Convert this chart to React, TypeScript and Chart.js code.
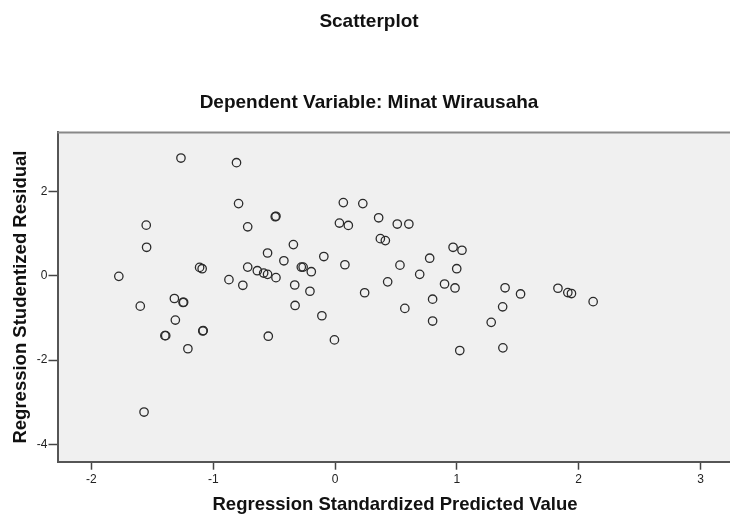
import React, { useEffect, useRef } from "react";
import { Chart, registerables } from "chart.js";

Chart.register(...registerables);

// Regression standardized predicted values (x) and studentized residuals (y)
const predictedValues = [
  -1.265, -0.809, -0.792, -0.491, -0.485, -1.55, -0.717, -1.547, -0.554, -0.42,
  -1.112, -1.091, -0.717, -0.638, -0.586, -0.554, -1.775, -0.485, -0.871, -0.757,
  -1.319, -1.248, -1.243, -1.599, -1.311, -1.397, -1.39, -1.086, -1.082, -1.208,
  -0.548, -1.568, 0.068, 0.228, 0.036, 0.109, 0.358, 0.511, 0.606, 0.372,
  0.413, -0.342, -0.092, 0.081, 0.533, 0.777, 0.969, 1.042, -0.277, -0.262,
  -0.195, 0.999, 0.695, 0.432, -0.331, 0.899, 0.985, -0.206, 0.243, 0.801,
  -0.328, -0.108, 0.573, 0.801, -0.005, 1.024, 1.282, 1.376, 1.396, 1.378,
  1.523, 1.83, 1.911, 1.941, 2.119,
];
const studentizedResiduals = [
  2.79, 2.68, 1.71, 1.4, 1.41, 1.2, 1.16, 0.675, 0.54, 0.355,
  0.198, 0.167, 0.205, 0.12, 0.064, 0.033, -0.014, -0.045, -0.092, -0.226,
  -0.539, -0.633, -0.628, -0.72, -1.05, -1.419, -1.419, -1.308, -1.3, -1.73,
  -1.433, -3.23, 1.734, 1.71, 1.249, 1.193, 1.374, 1.226, 1.226, 0.88,
  0.833, 0.739, 0.456, 0.261, 0.252, 0.416, 0.675, 0.605, 0.205, 0.205,
  0.096, 0.167, 0.033, -0.144, -0.219, -0.195, -0.289, -0.367, -0.402, -0.555,
  -0.704, -0.948, -0.774, -1.073, -1.52, -1.772, -1.104, -0.736, -0.285, -1.708,
  -0.431, -0.296, -0.398, -0.421, -0.614,
];

const xTickValues = [-2, -1, 0, 1, 2, 3];
const yTickValues = [-4, -2, 0, 2];

const chartTitle = "Scatterplot";
const chartSubtitle = "Dependent Variable: Minat Wirausaha";
const xAxisTitle = "Regression Standardized Predicted Value";
const yAxisTitle = "Regression Studentized Residual";

const X_MIN = -2.2785;
const X_MAX = 3.263;
const Y_MIN = -4.407;
const Y_MAX = 3.398;

const FONT = "Arial, 'Liberation Sans', Helvetica, sans-serif";
const CANVAS_W = 738;
const CANVAS_H = 516;

const plotFrame = {
  id: "plotFrame",
  beforeDraw(chart: any) {
    const { ctx, chartArea } = chart;
    if (!chartArea) return;
    ctx.save();
    ctx.fillStyle = "#f0f0f0";
    ctx.fillRect(chartArea.left, chartArea.top, chartArea.right - chartArea.left, chartArea.bottom - chartArea.top);
    ctx.restore();
  },
  afterDraw(chart: any) {
    const { ctx, chartArea } = chart;
    if (!chartArea) return;
    ctx.save();
    ctx.strokeStyle = "#888888";
    ctx.lineWidth = 2;
    ctx.beginPath();
    ctx.moveTo(chartArea.left, chartArea.top);
    ctx.lineTo(chartArea.right, chartArea.top);
    ctx.stroke();
    ctx.restore();
  },
};

export default function App() {
  const canvasRef = useRef<HTMLCanvasElement | null>(null);

  useEffect(() => {
    const canvas = canvasRef.current;
    if (!canvas) return;
    const points = predictedValues.map((x, i) => ({ x, y: studentizedResiduals[i] }));
    const chart = new Chart(canvas, {
      type: "scatter",
      data: {
        datasets: [
          {
            data: points,
            pointStyle: "circle",
            pointRadius: 4.2,
            pointBorderWidth: 1.3,
            pointBorderColor: "#2b2b2b",
            pointBackgroundColor: "rgba(0,0,0,0)",
            pointHoverRadius: 4.2,
          },
        ],
      },
      options: {
        responsive: false,
        animation: false,
        devicePixelRatio: 1,
        layout: { padding: { top: 0, left: 0, right: 0, bottom: 0 } },
        plugins: {
          legend: { display: false },
          tooltip: { enabled: false },
          title: {
            display: true,
            text: chartTitle,
            color: "#111",
            font: { family: FONT, size: 19, weight: "bold" },
            padding: { top: 10.7, bottom: 0 },
          },
          subtitle: {
            display: true,
            text: chartSubtitle,
            color: "#111",
            font: { family: FONT, size: 19, weight: "bold" },
            padding: { top: 57.4, bottom: 18.7 },
          },
        },
        scales: {
          x: {
            type: "linear",
            min: X_MIN,
            max: X_MAX,
            afterBuildTicks: (s: any) => {
              s.ticks = xTickValues.map((v) => ({ value: v }));
            },
            afterFit: (s: any) => {
              s.height = 54.3;
            },
            ticks: {
              color: "#222",
              font: { family: FONT, size: 12 },
              padding: 3,
              callback: (v: any) => String(v),
            },
            grid: {
              drawOnChartArea: false,
              drawTicks: true,
              tickLength: 8,
              tickColor: "#444",
              tickWidth: 1.5,
            },
            border: { color: "#555", width: 2 },
            title: {
              display: true,
              text: xAxisTitle,
              color: "#111",
              font: { family: FONT, size: 18.5, weight: "bold" },
              padding: { top: 0, bottom: 0 },
            },
          },
          y: {
            type: "linear",
            min: Y_MIN,
            max: Y_MAX,
            afterBuildTicks: (s: any) => {
              s.ticks = yTickValues.map((v) => ({ value: v }));
            },
            afterFit: (s: any) => {
              s.width = 57.5;
            },
            ticks: {
              color: "#222",
              font: { family: FONT, size: 12 },
              padding: 1,
              callback: (v: any) => String(v),
            },
            grid: {
              drawOnChartArea: false,
              drawTicks: true,
              tickLength: 9,
              tickColor: "#444",
              tickWidth: 1.5,
            },
            border: { color: "#555", width: 2 },
            title: {
              display: true,
              text: yAxisTitle,
              color: "#111",
              font: { family: FONT, size: 18.5, weight: "bold" },
              padding: { top: 10, bottom: 0 },
            },
          },
        },
      },
      plugins: [plotFrame],
    });
    return () => chart.destroy();
  }, []);

  return (
    <div
      style={{
        position: "fixed",
        left: 0,
        top: 0,
        width: 730,
        height: 516,
        overflow: "hidden",
        background: "#fff",
      }}
    >
      <canvas
        ref={canvasRef}
        width={CANVAS_W}
        height={CANVAS_H}
        style={{ display: "block", width: CANVAS_W, height: CANVAS_H }}
      />
    </div>
  );
}
